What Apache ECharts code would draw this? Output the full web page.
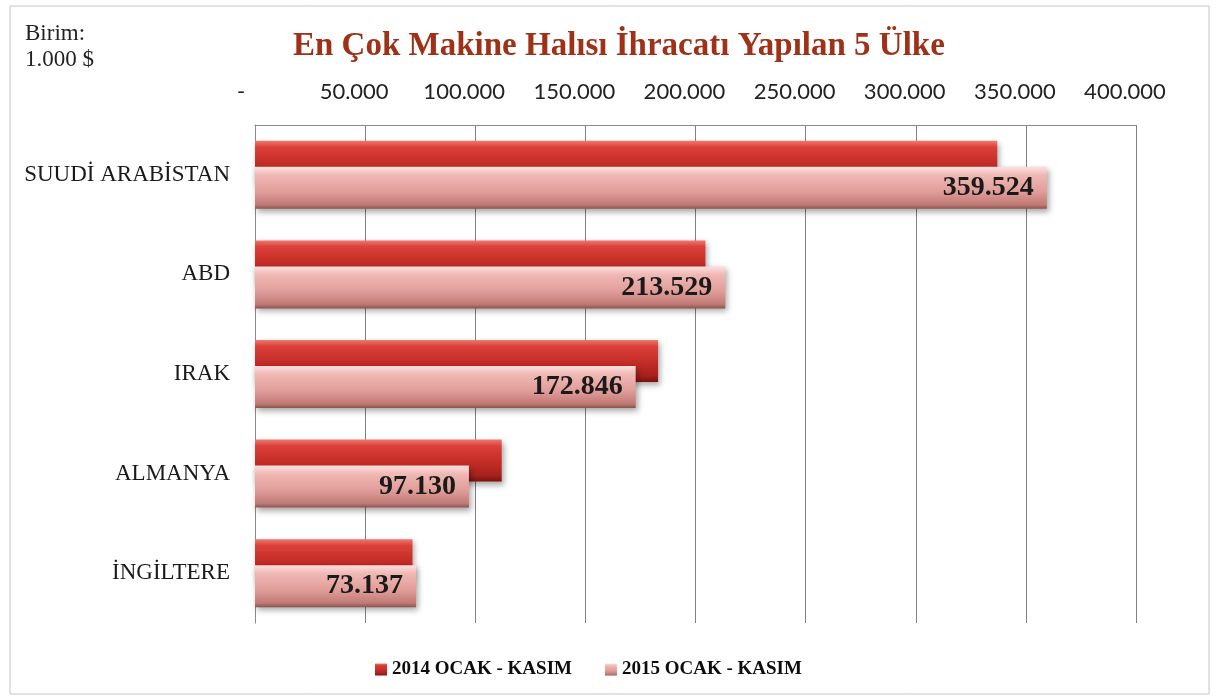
<!DOCTYPE html>
<html>
<head>
<meta charset="utf-8">
<script src="https://cdn.jsdelivr.net/npm/echarts@6/dist/echarts.min.js"></script>
<style>
html,body{margin:0;padding:0;background:#fff;}
#chart{width:1216px;height:696px;}
</style>
</head>
<body>
<div id="chart"></div>
<script>
// data (1.000 $)
var countries = ["SUUDİ ARABİSTAN","ABD","IRAK","ALMANYA","İNGİLTERE"];
var seriesNames = ["2014 OCAK - KASIM","2015 OCAK - KASIM"];
var values2014 = [337000,204500,183000,112000,71500];
var values2015 = [359524,213529,172846,97130,73137];
var xTicks = [0,50000,100000,150000,200000,250000,300000,350000,400000];

function fmt(v){
	return String(v).replace(/\B(?=(\d{3})+(?!\d))/g,".");
}

var serif = "'Liberation Serif','DejaVu Serif',serif";

var chart = echarts.init(document.getElementById("chart"));
chart.setOption({
	backgroundColor:"#fff",
	animation:false,
	title:{
		text:"En Çok Makine Halısı İhracatı Yapılan 5 Ülke",
		left:288,
		top:25,
		textStyle:{fontFamily:serif,fontWeight:"bold",fontSize:33,color:"#9e3218"}
	},
	graphic:[
		{type:"rect",shape:{x:10,y:6,width:1199,height:688},style:{fill:"none",stroke:"#c4c4c4",lineWidth:1},silent:true},
		{type:"text",left:25,top:22,style:{text:"Birim:",font:"23px "+serif,fill:"#222"}},
		{type:"text",left:25,top:48,style:{text:"1.000 $",font:"23px "+serif,fill:"#222"}}
	],
	legend:{
		left:370,
		top:655,
		icon:"rect",
		itemWidth:12,
		itemHeight:12,
		itemGap:33,
		textStyle:{fontFamily:serif,fontWeight:"bold",fontSize:19,color:"#0d0d0d"},
		data:seriesNames
	},
	grid:{left:255,right:80,top:125,bottom:73},
	xAxis:{
		type:"value",
		position:"top",
		min:xTicks[0],
		max:xTicks[xTicks.length-1],
		interval:xTicks[1]-xTicks[0],
		axisLine:{show:true,lineStyle:{color:"#8a8a8a"}},
		axisTick:{show:false},
		splitLine:{lineStyle:{color:"#808080",width:1}},
		axisLabel:{
			margin:22,
			fontFamily:"Lato, 'Open Sans', sans-serif",
			fontSize:22,
			color:"#222",
			padding:[0,22,0,0],
			formatter:function(v){ return v===0 ? "{z|-}" : fmt(v); },
			rich:{z:{fontFamily:"Lato, sans-serif",fontSize:22,color:"#222",padding:[0,6,0,0]}}
		}
	},
	yAxis:{
		type:"category",
		inverse:true,
		data:countries,
		axisLine:{show:true,lineStyle:{color:"#8a8a8a"}},
		axisTick:{show:false},
		axisLabel:{margin:25,fontFamily:serif,fontSize:23,color:"#1a1a1a"}
	},
	series:[
		{
			name:seriesNames[0],
			type:"bar",
			data:values2014,
			barWidth:42,
			barGap:"-38%",
			itemStyle:{
				color:new echarts.graphic.LinearGradient(0,0,0,1,[
					{offset:0,color:"#ec7a70"},
					{offset:0.15,color:"#dc403a"},
					{offset:0.5,color:"#c62e28"},
					{offset:0.85,color:"#a8201c"},
					{offset:1,color:"#781210"}
				]),
				shadowColor:"rgba(0,0,0,0.35)",
				shadowBlur:6,
				shadowOffsetX:2,
				shadowOffsetY:3
			}
		},
		{
			name:seriesNames[1],
			type:"bar",
			data:values2015,
			barWidth:42,
			barGap:"-38%",
			itemStyle:{
				color:new echarts.graphic.LinearGradient(0,0,0,1,[
					{offset:0,color:"#fbe0de"},
					{offset:0.2,color:"#f0b8b4"},
					{offset:0.6,color:"#e09c98"},
					{offset:0.9,color:"#c07a76"},
					{offset:1,color:"#8a5450"}
				]),
				shadowColor:"rgba(0,0,0,0.35)",
				shadowBlur:6,
				shadowOffsetX:2,
				shadowOffsetY:3
			},
			label:{
				show:true,
				position:"insideRight",
				distance:13,
				fontFamily:serif,
				fontWeight:"bold",
				fontSize:28,
				color:"#1a1a1a",
				formatter:function(p){ return fmt(p.value); }
			}
		}
	]
});
</script>
</body>
</html>
